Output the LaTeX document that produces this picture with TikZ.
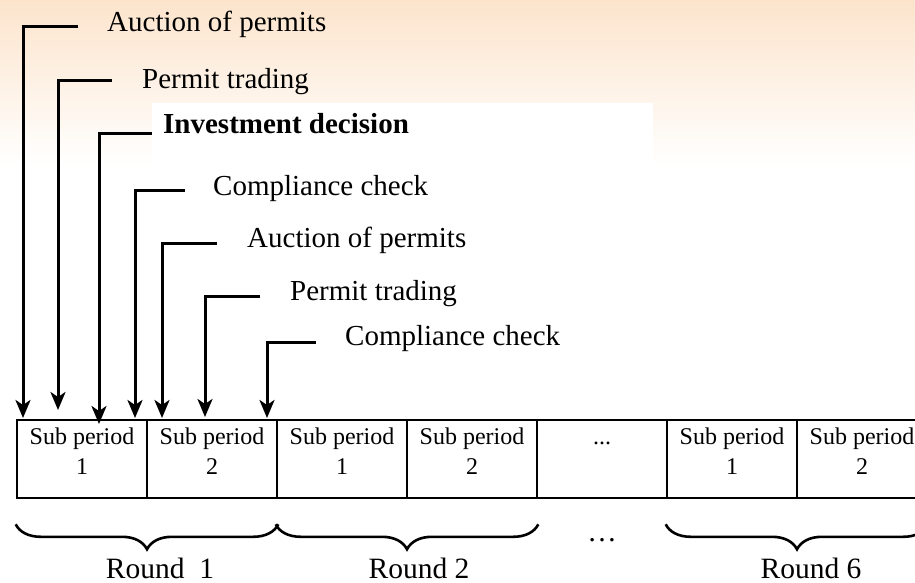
\documentclass[tikz,border=0pt]{standalone}
\usepackage{fontspec}
\setmainfont{Liberation Serif}
\usetikzlibrary{arrows.meta,decorations.pathreplacing}

\definecolor{peach}{RGB}{252,228,204}

\tikzset{
	pointer/.style={line width=3pt,-{Stealth[length=18pt 0,width=15pt 0,inset=5pt 0]}},
	steplabel/.style={anchor=base west,inner sep=0pt,font=\fontsize{29}{35}\selectfont},
	subbox/.style={draw,line width=2.6pt,minimum width=130pt,minimum height=78pt,inner sep=0pt},
	subtext/.style={anchor=north,yshift=-8.5pt,inner sep=0pt,align=center,font=\fontsize{24}{30}\selectfont},
	roundbrace/.style={line width=2.6pt,decorate,decoration={brace,mirror,amplitude=25pt}},
	roundlabel/.style={anchor=base,inner sep=0pt,font=\fontsize{29.5}{35}\selectfont}
}

\begin{document}
\begin{tikzpicture}[x=1pt,y=-1pt]
		\useasboundingbox (0,0) rectangle (915,583);
		
		% background
		\fill[white] (0,0) rectangle (915,583);
		\fill[top color=peach,bottom color=white] (0,0) rectangle (915,165);
		\fill[white] (152,103) rectangle (653,165);
		
		% sub periods
		\node[subbox,label={[subtext]north:Sub period\\1}] (b1) at (82,459) {};
		\node[subbox,label={[subtext]north:Sub period\\2}] (b2) at (212,459) {};
		\node[subbox,label={[subtext]north:Sub period\\1}] (b3) at (342,459) {};
		\node[subbox,label={[subtext]north:Sub period\\2}] (b4) at (472,459) {};
		\node[subbox,label={[subtext]north:\vphantom{Sub}...}] (b5) at (602,459) {};
		\node[subbox,label={[subtext]north:Sub period\\1}] (b6) at (732,459) {};
		\node[subbox,label={[subtext]north:Sub period\\2}] (b7) at (862,459) {};
		
		% steps
		\node[steplabel] (l1) at (107,32) {Auction of permits};
		\node[steplabel] (l2) at (142,89) {Permit trading};
		\node[steplabel] (l3) at (163,133) {\bfseries Investment decision};
		\node[steplabel] (l4) at (213,195) {Compliance check};
		\node[steplabel] (l5) at (247,247) {Auction of permits};
		\node[steplabel] (l6) at (290,300) {Permit trading};
		\node[steplabel] (l7) at (345,345) {Compliance check};
		
		\coordinate (s1) at (78,27);
		\coordinate (s2) at (112,81);
		\coordinate (s3) at (152,134);
		\coordinate (s4) at (185,190);
		\coordinate (s5) at (217,243);
		\coordinate (s6) at (260,296);
		\coordinate (s7) at (316,342);
		
		\coordinate (t1) at (23,418);
		\coordinate (t2) at (58,410);
		\coordinate (t3) at (99,424);
		\coordinate (t4) at (135,418);
		\coordinate (t5) at (162,418);
		\coordinate (t6) at (205,417);
		\coordinate (t7) at (267,418);
		
		\draw[pointer] (s1) -| (t1);
		\draw[pointer] (s2) -| (t2);
		\draw[pointer] (s3) -| (t3);
		\draw[pointer] (s4) -| (t4);
		\draw[pointer] (s5) -| (t5);
		\draw[pointer] (s6) -| (t6);
		\draw[pointer] (s7) -| (t7);
		
		% rounds
		\draw[roundbrace] ([yshift=-25pt]b1.south west) -- ([yshift=-25pt]b2.south east);
		\draw[roundbrace] ([yshift=-25pt]b3.south west) -- ([yshift=-25pt]b4.south east);
		\draw[roundbrace] ([yshift=-25pt]b6.south west) -- ([yshift=-25pt]b7.south east);
		
		\node[roundlabel] (r1) at (160,578) {Round\ \ 1};
		\node[roundlabel] (r2) at (419,578) {Round 2};
		\node[roundlabel] (dots) at (602,541) {…};
		\node[roundlabel] (r6) at (811,578) {Round 6};
	\end{tikzpicture}
\end{document}
